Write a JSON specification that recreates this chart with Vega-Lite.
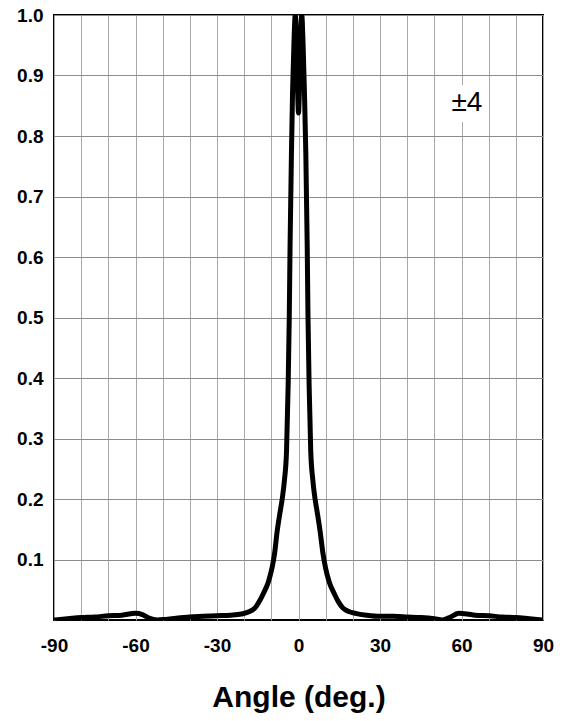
{
  "$schema": "https://vega.github.io/schema/vega-lite/v6.json",
  "width": 489,
  "height": 605,
  "autosize": "none",
  "padding": {"left": 54, "top": 15, "right": 29, "bottom": 101},
  "background": "white",
  "config": {
    "view": {"stroke": "black", "strokeWidth": 2},
    "font": "Liberation Sans"
  },
  "datasets": {
    "curve": [
      {"angle": -90, "value": 0.0},
      {"angle": -85, "value": 0.002},
      {"angle": -80, "value": 0.004},
      {"angle": -75, "value": 0.005},
      {"angle": -70, "value": 0.007},
      {"angle": -65, "value": 0.008},
      {"angle": -60, "value": 0.011},
      {"angle": -57.5, "value": 0.009},
      {"angle": -55, "value": 0.003},
      {"angle": -52, "value": 0.0},
      {"angle": -49, "value": 0.001},
      {"angle": -45, "value": 0.003},
      {"angle": -40, "value": 0.005},
      {"angle": -35, "value": 0.006},
      {"angle": -30, "value": 0.007},
      {"angle": -25, "value": 0.008},
      {"angle": -21, "value": 0.01},
      {"angle": -18, "value": 0.014},
      {"angle": -16, "value": 0.02},
      {"angle": -14.5, "value": 0.03},
      {"angle": -12.8, "value": 0.045},
      {"angle": -11.1, "value": 0.063},
      {"angle": -9.8, "value": 0.085},
      {"angle": -8.8, "value": 0.11},
      {"angle": -7.9, "value": 0.145},
      {"angle": -6.9, "value": 0.175},
      {"angle": -6.0, "value": 0.2},
      {"angle": -5.2, "value": 0.23},
      {"angle": -4.4, "value": 0.28},
      {"angle": -3.8, "value": 0.39},
      {"angle": -3.4, "value": 0.5},
      {"angle": -3.1, "value": 0.62},
      {"angle": -2.6, "value": 0.77},
      {"angle": -2.2, "value": 0.87},
      {"angle": -1.7, "value": 0.95},
      {"angle": -1.2, "value": 1.0},
      {"angle": -0.7, "value": 0.95},
      {"angle": -0.3, "value": 0.87},
      {"angle": 0, "value": 0.838},
      {"angle": 0.3, "value": 0.87},
      {"angle": 0.7, "value": 0.95},
      {"angle": 1.2, "value": 1.0},
      {"angle": 1.7, "value": 0.95},
      {"angle": 2.2, "value": 0.87},
      {"angle": 2.7, "value": 0.77},
      {"angle": 3.2, "value": 0.62},
      {"angle": 3.5, "value": 0.5},
      {"angle": 3.9, "value": 0.39},
      {"angle": 4.5, "value": 0.28},
      {"angle": 5.3, "value": 0.23},
      {"angle": 6.1, "value": 0.2},
      {"angle": 7.0, "value": 0.175},
      {"angle": 8.0, "value": 0.145},
      {"angle": 9.0, "value": 0.11},
      {"angle": 10.0, "value": 0.085},
      {"angle": 11.3, "value": 0.063},
      {"angle": 13.0, "value": 0.045},
      {"angle": 14.7, "value": 0.03},
      {"angle": 16.3, "value": 0.02},
      {"angle": 18.5, "value": 0.014},
      {"angle": 21, "value": 0.011},
      {"angle": 25, "value": 0.008},
      {"angle": 30, "value": 0.006},
      {"angle": 35, "value": 0.006},
      {"angle": 40, "value": 0.005},
      {"angle": 45, "value": 0.004},
      {"angle": 50, "value": 0.002},
      {"angle": 53, "value": 0.0},
      {"angle": 56, "value": 0.005},
      {"angle": 59, "value": 0.011},
      {"angle": 62, "value": 0.01},
      {"angle": 65, "value": 0.008},
      {"angle": 70, "value": 0.007},
      {"angle": 75, "value": 0.005},
      {"angle": 80, "value": 0.004},
      {"angle": 85, "value": 0.002},
      {"angle": 90, "value": 0.0}
    ],
    "box": [{"x1": 56.5, "x2": 67.5, "y1": 0.823, "y2": 0.884, "label": "±4", "xc": 62, "yc": 0.855}]
  },
  "layer": [
    {
      "data": {"name": "curve"},
      "mark": {"type": "line", "color": "black", "strokeWidth": 5, "interpolate": "monotone", "clip": true, "strokeJoin": "round"},
      "encoding": {
        "x": {
          "field": "angle", "type": "quantitative",
          "scale": {"domain": [-90, 90], "nice": false, "zero": false},
          "axis": {
            "values": [-90, -80, -70, -60, -50, -40, -30, -20, -10, 0, 10, 20, 30, 40, 50, 60, 70, 80, 90],
            "tickCount": 40,
            "labelExpr": "datum.value % 30 == 0 ? '' + datum.value : ''",
            "labelFont": "Liberation Sans", "labelFontSize": 19, "labelFontWeight": "bold", "labelColor": "black",
            "labelPadding": 16, "ticks": false, "domain": false,
            "gridColor": "#a8a8a8", "gridWidth": 1, "gridOpacity": 1,
            "title": "Angle (deg.)", "titleFont": "Liberation Sans", "titleFontSize": 30, "titleFontWeight": "bold", "titleColor": "black",
            "titlePadding": 27, "labelFlush": false, "labelOverlap": false
          }
        },
        "y": {
          "field": "value", "type": "quantitative",
          "scale": {"domain": [0, 1], "nice": false},
          "axis": {
            "values": [0.1, 0.2, 0.3, 0.4, 0.5, 0.6, 0.7, 0.8, 0.9, 1.0],
            "tickCount": 40,
            "format": ".1f",
            "labelFont": "Liberation Sans", "labelFontSize": 19, "labelFontWeight": "bold", "labelColor": "black",
            "labelPadding": 11, "ticks": false, "domain": false,
            "gridColor": "#8c8c8c", "gridWidth": 1, "gridOpacity": 1,
            "title": null, "labelFlush": false, "labelOverlap": false
          }
        }
      }
    },
    {
      "data": {"name": "box"},
      "mark": {"type": "rect", "fill": "white", "stroke": null},
      "encoding": {
        "x": {"field": "x1", "type": "quantitative"},
        "x2": {"field": "x2"},
        "y": {"field": "y1", "type": "quantitative"},
        "y2": {"field": "y2"}
      }
    },
    {
      "data": {"name": "box"},
      "mark": {"type": "text", "font": "Liberation Sans", "fontSize": 28, "color": "black", "align": "center", "baseline": "middle"},
      "encoding": {
        "x": {"field": "xc", "type": "quantitative"},
        "y": {"field": "yc", "type": "quantitative"},
        "text": {"field": "label"}
      }
    }
  ]
}
